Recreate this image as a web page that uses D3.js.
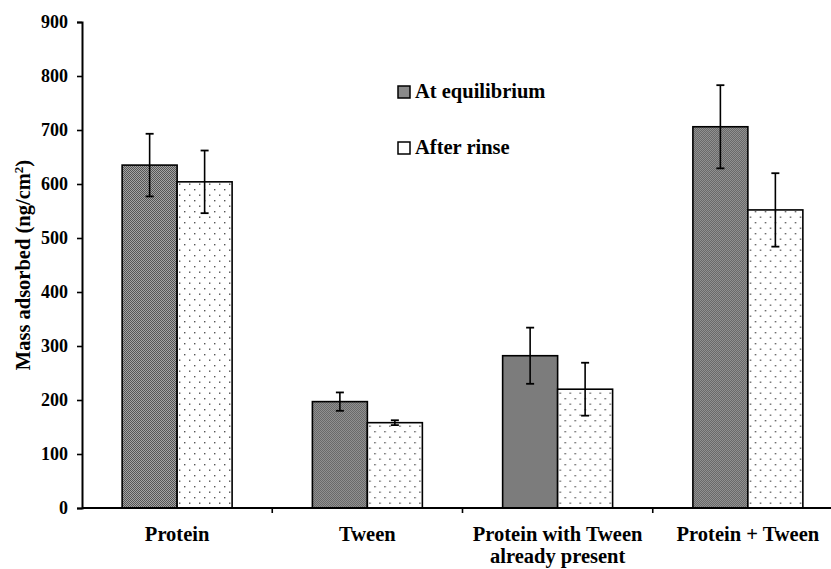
<!DOCTYPE html>
<html><head><meta charset="utf-8">
<script src="https://cdn.jsdelivr.net/npm/d3@7"></script>
<style>body{margin:0;background:#fff}svg{display:block}text{font-family:"Liberation Serif","Times New Roman",serif;font-weight:bold;fill:#000}</style>
</head><body><svg id="c" width="831" height="569"></svg>
<script>
const categories = [["Protein"], ["Tween"], ["Protein with Tween", "already present"], ["Protein + Tween"]];
const seriesNames = ["At equilibrium", "After rinse"];
const equilibrium = [635, 197, 282, 706];
const equilibriumErr = [58, 17, 52, 77];
const afterRinse = [604, 158, 220, 552];
const afterRinseErr = [58, 4.5, 49, 68];
const yTicks = [0, 100, 200, 300, 400, 500, 600, 700, 800, 900];
const yLabel = "Mass adsorbed (ng/cm";

const svg = d3.select("#c");
const defs = svg.append("defs");
const pd = defs.append("pattern").attr("id","dark").attr("patternUnits","userSpaceOnUse").attr("width",2).attr("height",2);
pd.append("rect").attr("width",2).attr("height",2).attr("fill","#a4a4a4");
pd.append("rect").attr("x",0).attr("y",0).attr("width",1).attr("height",1).attr("fill","#555");
pd.append("rect").attr("x",1).attr("y",1).attr("width",1).attr("height",1).attr("fill","#555");
const pl = defs.append("pattern").attr("id","light").attr("patternUnits","userSpaceOnUse").attr("width",10).attr("height",11);
pl.append("rect").attr("width",10).attr("height",11).attr("fill","#fff");
pl.append("rect").attr("x",2).attr("y",2).attr("width",1.4).attr("height",1.4).attr("fill","#555");
pl.append("rect").attr("x",7).attr("y",7.5).attr("width",1.4).attr("height",1.4).attr("fill","#555");

const x0 = d3.scaleBand().domain(d3.range(categories.length)).range([82, 843]).padding(0);
const x1 = d3.scaleBand().domain(seriesNames).range([0, x0.bandwidth()]).paddingInner(0).paddingOuter(0.73);
const y = d3.scaleLinear().domain([0, 900]).range([508, 22]);
const fills = {"At equilibrium":"url(#dark)", "After rinse":"url(#light)"};

const data = categories.map((c,i)=>[
  {s:seriesNames[0], v:equilibrium[i], e:equilibriumErr[i]},
  {s:seriesNames[1], v:afterRinse[i], e:afterRinseErr[i]}
]);

const g = svg.selectAll("g.cat").data(data).enter().append("g").attr("class","cat")
  .attr("transform",(d,i)=>`translate(${x0(i)},0)`);
g.selectAll("rect").data(d=>d).enter().append("rect")
  .attr("x",d=>x1(d.s)).attr("width",x1.bandwidth())
  .attr("y",d=>y(d.v)).attr("height",d=>y(0)-y(d.v))
  .attr("fill",d=>fills[d.s]).attr("stroke","#000").attr("stroke-width",1.6);
const eb = g.selectAll("g.eb").data(d=>d).enter().append("g").attr("class","eb")
  .attr("transform",d=>`translate(${x1(d.s)+x1.bandwidth()/2},0)`);
eb.append("line").attr("y1",d=>y(d.v+d.e)).attr("y2",d=>y(d.v-d.e)).attr("stroke","#000").attr("stroke-width",1.6);
eb.append("line").attr("x1",-4).attr("x2",4).attr("y1",d=>y(d.v+d.e)).attr("y2",d=>y(d.v+d.e)).attr("stroke","#000").attr("stroke-width",1.8);
eb.append("line").attr("x1",-4).attr("x2",4).attr("y1",d=>y(d.v-d.e)).attr("y2",d=>y(d.v-d.e)).attr("stroke","#000").attr("stroke-width",1.8);

// y axis
const ya = svg.append("g").attr("transform","translate(82,0)")
  .call(d3.axisLeft(y).tickValues(yTicks).tickSize(5).tickPadding(9).tickFormat(d3.format("d")));
ya.select(".domain").attr("stroke","#000").attr("stroke-width",2);
ya.selectAll(".tick line").attr("stroke","#000").attr("stroke-width",1.6);
ya.selectAll("text").style("font-size","18px").attr("font-family",null);

// x axis
svg.append("line").attr("x1",82).attr("x2",831).attr("y1",y(0)).attr("y2",y(0)).attr("stroke","#000").attr("stroke-width",2);
svg.selectAll("line.xt").data(d3.range(1,categories.length)).enter().append("line").attr("class","xt")
  .attr("x1",i=>x0(i)).attr("x2",i=>x0(i)).attr("y1",y(0)).attr("y2",y(0)+5).attr("stroke","#000").attr("stroke-width",1.6);
const xl = svg.selectAll("text.xl").data(categories).enter().append("text").attr("class","xl")
  .attr("text-anchor","middle").style("font-size","20.5px")
  .attr("transform",(d,i)=>`translate(${x0(i)+x0.bandwidth()/2},541)`);
xl.selectAll("tspan").data(d=>d).enter().append("tspan").attr("x",0).attr("dy",(d,j)=>j?21.5:0).text(d=>d);

// y label
const yl = svg.append("text").attr("transform","translate(30,265) rotate(-90)").attr("text-anchor","middle").style("font-size","20.5px");
yl.append("tspan").text(yLabel);
yl.append("tspan").attr("dy",-7).style("font-size","13px").text("2");
yl.append("tspan").attr("dy",7).text(")");

// legend
const lg = svg.selectAll("g.lg").data(seriesNames).enter().append("g").attr("class","lg")
  .attr("transform",(d,i)=>`translate(398,${86+i*56})`);
lg.append("rect").attr("width",12).attr("height",12).attr("fill",d=>d===seriesNames[0]?"#8a8a8a":"#fff").attr("stroke","#000").attr("stroke-width",1.5);
lg.append("text").attr("x",17).attr("y",12).style("font-size","20.5px").text(d=>d);
</script></body></html>
